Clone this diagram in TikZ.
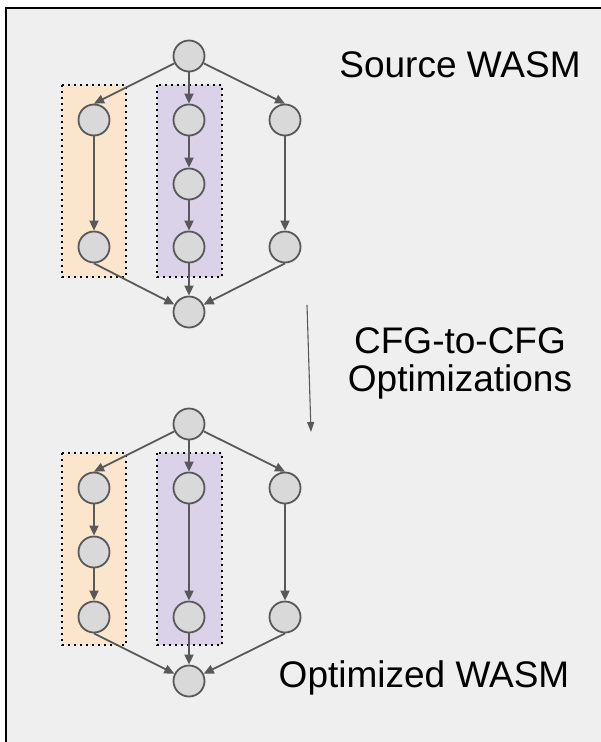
\documentclass[tikz,border=0pt]{standalone}
\usepackage{fontspec}
\setmainfont{Liberation Sans}
\usetikzlibrary{arrows.meta}
\definecolor{edgegray}{HTML}{595959}
\definecolor{nodegray}{HTML}{D9D9D9}
\definecolor{panelgray}{HTML}{EFEFEF}
\definecolor{peach}{HTML}{FCE5CD}
\definecolor{lilac}{HTML}{D9D2E9}
\tikzset{
  blk/.style={circle,draw=edgegray,fill=nodegray,line width=1.8pt,minimum size=31pt,inner sep=0pt},
  flow/.style={-{Triangle[length=10pt,width=9pt]},draw=edgegray,line width=1.8pt},
  region/.style={draw=black,dash pattern=on 1.8pt off 4.2pt,line width=1.8pt},
  caption/.style={font=\fontsize{37}{44}\selectfont,align=center}
}
\begin{document}
\begin{tikzpicture}[x=1pt,y=-1pt]
 \useasboundingbox (0,0) rectangle (601,742);
 \fill[white] (0,0) rectangle (601,742);
 \fill[panelgray] (6,8) rectangle (601,742);
 \draw[line width=2pt] (6,742)--(6,8)--(601,8);
 % regions behind the graphs
 \draw[region,fill=peach] (62,85) rectangle (126,277);
 \draw[region,fill=lilac] (157,85) rectangle (222,277);
 \draw[region,fill=peach] (62,453) rectangle (126,645);
 \draw[region,fill=lilac] (157,453) rectangle (222,645);
 % source CFG
 \node[blk] (s) at (189,56){};
 \node[blk] (l1) at (94,120){};
 \node[blk] (l2) at (94,247){};
 \node[blk] (m1) at (189,120){};
 \node[blk] (m2) at (189,184){};
 \node[blk] (m3) at (189,247){};
 \node[blk] (r1) at (285,120){};
 \node[blk] (r2) at (285,247){};
 \node[blk] (e) at (189,312){};
 \draw[flow] (s)--(l1.north);
 \draw[flow] (s)--(m1);
 \draw[flow] (s)--(r1.north);
 \draw[flow] (l1)--(l2);
 \draw[flow] (m1)--(m2);
 \draw[flow] (m2)--(m3);
 \draw[flow] (r1)--(r2);
 \draw[flow] (l2.south)--(e);
 \draw[flow] (m3)--(e);
 \draw[flow] (r2.south)--(e);
 % optimized CFG
 \node[blk] (os) at (189,424){};
 \node[blk] (ol1) at (94,488){};
 \node[blk] (ol2) at (94,552){};
 \node[blk] (ol3) at (94,617){};
 \node[blk] (om1) at (189,488){};
 \node[blk] (om2) at (189,617){};
 \node[blk] (or1) at (285,488){};
 \node[blk] (or2) at (285,617){};
 \node[blk] (oe) at (189,681){};
 \draw[flow] (os)--(ol1.north);
 \draw[flow] (os)--(om1);
 \draw[flow] (os)--(or1.north);
 \draw[flow] (ol1)--(ol2);
 \draw[flow] (ol2)--(ol3);
 \draw[flow] (om1)--(om2);
 \draw[flow] (or1)--(or2);
 \draw[flow] (ol3.south)--(oe);
 \draw[flow] (om2)--(oe);
 \draw[flow] (or2.south)--(oe);
 % transformation
 \coordinate (from) at (307,305);
 \coordinate (to) at (311,432);
 \draw[-{Triangle[length=10pt,width=7pt]},draw=edgegray,line width=1.1pt] (from)--(to);
 \node[caption] (src) at (460,65){Source WASM};
 \node[caption] (opt) at (460,363){CFG-to-CFG\\[-6pt]Optimizations};
 \node[caption] (res) at (424,678){Optimized WASM};
\end{tikzpicture}
\end{document}
